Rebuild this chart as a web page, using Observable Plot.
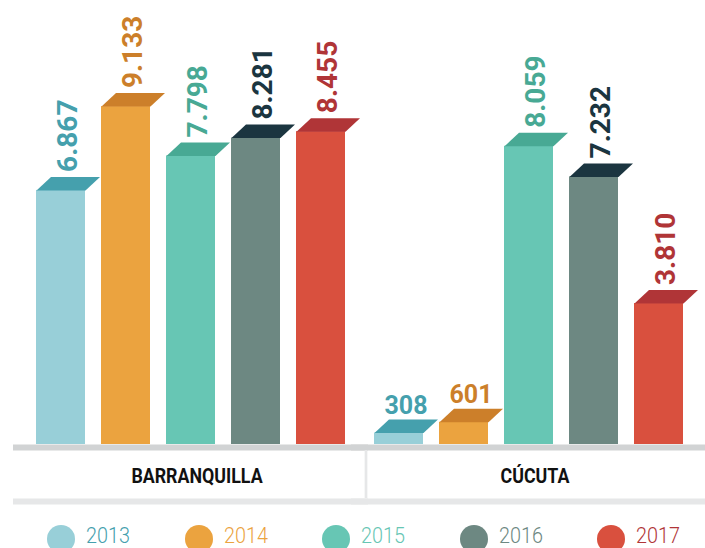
<!DOCTYPE html>
<html><head><meta charset="utf-8">
<script src="https://cdn.jsdelivr.net/npm/d3@7"></script>
<script src="https://cdn.jsdelivr.net/npm/@observablehq/plot@0.6"></script>
<style>
html,body{margin:0;padding:0;background:#fff}
body{width:705px;height:548px;overflow:hidden;font-family:Roboto,sans-serif}
#chart svg{display:block}
#legend{display:flex;padding-left:47px;margin-top:13px}
.item{display:flex;align-items:center;width:137.5px;flex:none}
.dot{width:28px;height:28px;border-radius:50%;margin-right:11px;flex:none}
.lab{display:inline-block;font-size:22px;font-weight:300;line-height:18px;height:18px;position:relative;top:-3px;transform:scaleX(0.9);transform-origin:left center}
</style></head><body>
<div id="chart"></div><div id="legend"></div>
<script>
// ---- data ----
const cities = ["BARRANQUILLA", "CÚCUTA"];
const years = ["2013", "2014", "2015", "2016", "2017"];
const barranquilla = [6867, 9133, 7798, 8281, 8455];
const cucuta = [308, 601, 8059, 7232, 3810];

// ---- palette ----
const frontColors = ["#98cfd8", "#eba33f", "#67c6b4", "#6d8882", "#d9503e"];
const capColors = ["#45a0ad", "#cc7f2a", "#48a994", "#1b3540", "#b03537"];
const legendTextColors = ["#45a0ad", "#eba33f", "#67c6b4", "#6d8882", "#b03537"];

const series = [barranquilla, cucuta];
const rows = cities.flatMap((city, ci) => years.map((year, yi) => ({city, year, yi, value: series[ci][yi]})));

const fmt = d3.formatLocale({decimal: ",", thousands: ".", grouping: [3], currency: ["$", ""]}).format(",");
const FONT = 'Roboto,sans-serif';

const W = 705, H = 512, ML = 35, MR = 21, MB = 68;
const fxPad = 0.08, xPad = 0.252;
const fxBand = d3.scaleBand(cities, [ML, W - MR]).paddingInner(fxPad).paddingOuter(0);
const bw = d3.scaleBand(years, [0, fxBand.bandwidth()]).paddingInner(xPad).paddingOuter(0).bandwidth();
const capDx = 14.5, capDy = 13.5;
const capSymbol = {
  draw(ctx) {
    ctx.moveTo(-bw / 2, 0);
    ctx.lineTo(bw / 2, 0);
    ctx.lineTo(bw / 2 + capDx, -capDy);
    ctx.lineTo(-bw / 2 + capDx, -capDy);
    ctx.closePath();
  }
};

const chart = Plot.plot({
  width: W, height: H, marginTop: 0, marginLeft: ML, marginRight: MR, marginBottom: MB,
  fx: {domain: cities, paddingInner: fxPad, paddingOuter: 0, axis: null, label: null},
  x: {domain: years, paddingInner: xPad, paddingOuter: 0, axis: null},
  y: {domain: [0, 12000], axis: null},
  color: {type: "identity"},
  style: {fontFamily: FONT, background: "transparent", overflow: "visible"},
  marks: [
    Plot.barY(rows, {fx: "city", x: "year", y: "value", fill: d => frontColors[d.yi]}),
    Plot.dot(rows, {fx: "city", x: "year", y: "value", symbol: capSymbol, r: 5, fill: d => capColors[d.yi]}),
    Plot.text(rows.filter(d => d.value >= 1000), {
      fx: "city", x: "year", y: "value", text: d => fmt(d.value), rotate: -90,
      textAnchor: "start", lineAnchor: "middle", dx: 7, dy: -(capDy + 5),
      fill: d => capColors[d.yi], fontSize: 28, fontWeight: "bold", ariaLabel: "value-rot"
    }),
    Plot.text(rows.filter(d => d.value < 1000), {
      fx: "city", x: "year", y: "value", text: d => fmt(d.value),
      textAnchor: "middle", lineAnchor: "bottom", dx: 7, dy: -(capDy + 5.5),
      fill: d => capColors[d.yi], fontSize: 25, fontWeight: "bold", ariaLabel: "value-flat"
    }),
    Plot.ruleY([0], {stroke: "#d1d3d4", strokeWidth: 6, dy: 3, insetLeft: -22, insetRight: -22}),
    Plot.ruleY([0], {stroke: "#e6e7e8", strokeWidth: 6, dy: 57, insetLeft: -22, insetRight: -22}),
    Plot.ruleX([{city: cities[0], year: years[years.length - 1]}], {
      fx: "city", x: "year", y1: 0, y2: 0, insetTop: 6, insetBottom: -54, dx: 45,
      stroke: "#e6e7e8", strokeWidth: 2.7
    }),
    Plot.axisFx({anchor: "bottom", tickSize: 0, tickPadding: 24, label: null, fontSize: 20, fontWeight: "bold", fill: "#111", dx: 6})
  ]
});

// condense text horizontally (the reference uses a condensed face)
function squeeze(selector, s) {
  chart.querySelectorAll(selector).forEach(t => {
    let tr = t.getAttribute("transform");
    if (!tr) {
      const x = parseFloat(t.getAttribute("x"));
      tr = `translate(${isFinite(x) ? x : 0},0)`;
      t.removeAttribute("x");
    }
    t.setAttribute("transform", tr + ` scale(${s},1)`);
  });
}
squeeze('g[aria-label="value-rot"] text', 0.81);
squeeze('g[aria-label="value-flat"] text', 0.85);
squeeze('g[aria-label="fx-axis tick label"] text', 0.89);

document.getElementById("chart").appendChild(chart);

const legend = document.getElementById("legend");
years.forEach((y, i) => {
  const item = document.createElement("div");
  item.className = "item";
  const dot = document.createElement("span");
  dot.className = "dot";
  dot.style.background = frontColors[i];
  const lab = document.createElement("span");
  lab.className = "lab";
  lab.style.color = legendTextColors[i];
  lab.textContent = y;
  item.append(dot, lab);
  legend.appendChild(item);
});
</script></body></html>
